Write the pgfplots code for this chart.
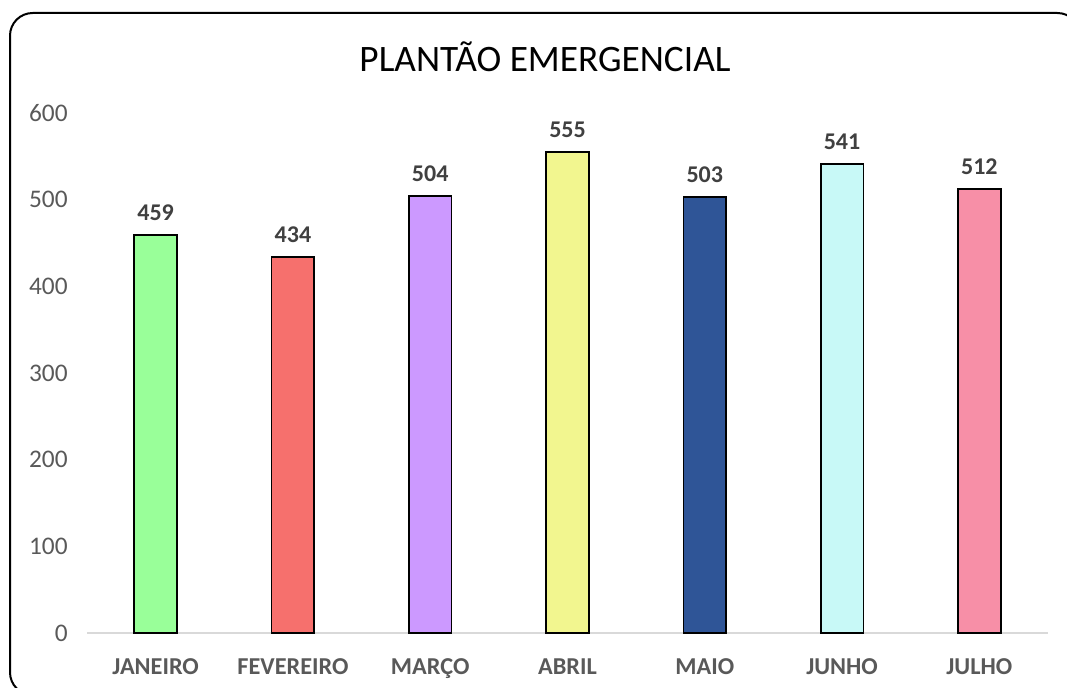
\documentclass[border=0pt]{standalone}
\usepackage{pgfplots}
\pgfplotsset{compat=1.18}
\usepackage{fontspec}
\setmainfont{Carlito}
\definecolor{c1}{HTML}{99FF99}
\definecolor{c2}{HTML}{F6706D}
\definecolor{c3}{HTML}{CC99FF}
\definecolor{c4}{HTML}{F2F68F}
\definecolor{c5}{HTML}{2F5597}
\definecolor{c6}{HTML}{C8F9F7}
\definecolor{c7}{HTML}{F78FA7}
\definecolor{tickgray}{HTML}{595959}
\definecolor{labgray}{HTML}{404040}
\definecolor{axgray}{HTML}{D9D9D9}
\begin{document}
\begin{tikzpicture}
\useasboundingbox (0,0) rectangle (800.25pt,515.25pt);
\draw[line width=1.5pt, rounded corners=17pt] (7.5pt,-6pt) rectangle (810pt,505.5pt);
\node[font=\fontsize{28}{33}\selectfont, text=black] at (408.75pt,473pt) {PLANTÃO EMERGENCIAL};
\begin{axis}[
  at={(65.25pt,40.5pt)}, anchor=south west,
  scale only axis, width=720.75pt, height=390pt,
  ybar, bar width=32pt,
  xmin=-0.5, xmax=6.5, ymin=0, ymax=600,
  xtick={0,1,2,3,4,5,6},
  xticklabels={JANEIRO,FEVEREIRO,MARÇO,ABRIL,MAIO,JUNHO,JULHO},
  ytick={0,100,200,300,400,500,600},
  axis x line*=bottom, axis y line*=left,
  y axis line style={draw=none},
  x axis line style={draw=axgray, line width=1.3pt, -},
  tick style={draw=none},
  /pgf/number format/assume math mode=true,
  yticklabel style={font=\fontsize{19}{23}\selectfont, text=tickgray, anchor=east, xshift=-11pt},
  xticklabel style={font=\bfseries\fontsize{18.2}{22}\selectfont, text=tickgray, anchor=base, yshift=-27pt},
  nodes near coords,
  nodes near coords style={font=\bfseries\fontsize{18}{22}\selectfont, text=labgray, anchor=south, yshift=7pt},
  clip=false,
]
\addplot[fill=c1, draw=black, line width=1.3pt, bar shift=0pt] coordinates {(0,459)};
\addplot[fill=c2, draw=black, line width=1.3pt, bar shift=0pt] coordinates {(1,434)};
\addplot[fill=c3, draw=black, line width=1.3pt, bar shift=0pt] coordinates {(2,504)};
\addplot[fill=c4, draw=black, line width=1.3pt, bar shift=0pt] coordinates {(3,555)};
\addplot[fill=c5, draw=black, line width=1.3pt, bar shift=0pt] coordinates {(4,503)};
\addplot[fill=c6, draw=black, line width=1.3pt, bar shift=0pt] coordinates {(5,541)};
\addplot[fill=c7, draw=black, line width=1.3pt, bar shift=0pt] coordinates {(6,512)};
\end{axis}
\end{tikzpicture}
\end{document}
